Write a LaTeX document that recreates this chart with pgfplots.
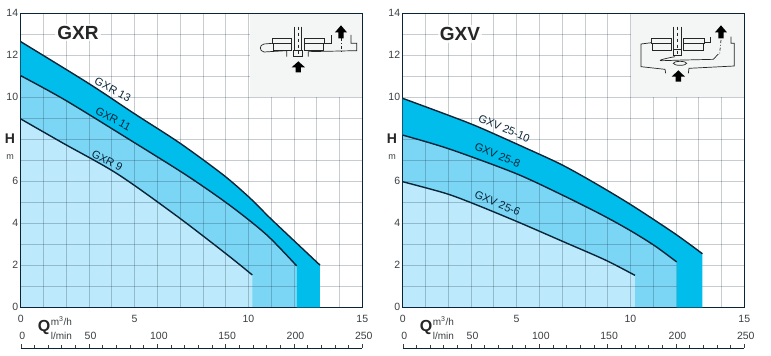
\documentclass[border=0pt]{standalone}
\usepackage{fontspec}
\setmainfont{Liberation Sans}
\usepackage{pgfplots}
\pgfplotsset{compat=1.18}
\definecolor{lightb}{HTML}{BCE9FB}
\definecolor{midb}{HTML}{7BD6F6}
\definecolor{cyanb}{HTML}{00BDEB}
\definecolor{gridc}{HTML}{102838}
\definecolor{linec}{HTML}{0A2538}
\definecolor{insetc}{HTML}{F3F6F5}
\definecolor{txt}{HTML}{3A3F42}
\newcommand{\fs}[1]{\fontsize{#1}{#1}\selectfont}
\pgfplotsset{
 base/.style={scale only axis,width=341.6pt,height=294pt,xmin=0,xmax=15,ymin=0,ymax=14,clip=true},
 under/.style={base,axis on top,axis line style={draw=none},
   xtick={0,5,10,15},ytick={0,2,...,14},yticklabels={0,2,4,6,,10,12,14},
   minor x tick num=4,minor y tick num=1,
   major tick length=0pt,minor tick length=0pt,
   grid=both,grid style={draw=gridc,opacity=0.24,line width=0.7pt},
   minor grid style={draw=gridc,opacity=0.24,line width=0.7pt},
   /pgf/number format/assume math mode=true,
   tick label style={text=txt,font=\fs{10.5}},
   xticklabel style={yshift=-4pt},yticklabel style={xshift=1pt}},
 over/.style={base,axis line style={draw=linec,line width=1.2pt},xtick=\empty,ytick=\empty},
 curve/.style={draw=linec,line width=1.4pt,smooth,no marks},
 ruler/.style={scale only axis,width=341.6pt,height=1pt,xmin=0,xmax=250,ymin=0,ymax=1,
   axis y line=none,axis x line=bottom,axis line style={-,draw=linec,line width=1pt},
   xtick={0,50,...,250},minor x tick num=4,tick align=inside,
   major tick length=4pt,minor tick length=3pt,tick style={draw=txt,line width=0.4pt},
   /pgf/number format/assume math mode=true,
   tick label style={text=txt,font=\fs{10.5}},xticklabel style={yshift=19.5pt,xshift=1.5pt}},
}
\begin{document}
\begin{tikzpicture}
\path[use as bounding box] (0pt,0pt) rectangle (771pt,-356pt);

%% ---------- GXR ----------
\begin{axis}[under,at={(20.7pt,-307.3pt)},anchor=south west]
\addplot[fill=midb,draw=none,smooth] coordinates {(0,11.03)(1.95,9.87)(4.8,7.97)(7.29,6.28)(9.19,4.85)(10.8,3.45)(12.12,1.97)} \closedcycle;
\addplot[fill=lightb,draw=none,smooth] coordinates {(0,8.97)(1.87,7.81)(4.25,6.35)(6.85,4.35)(9.05,2.52)(10.17,1.54)} \closedcycle;
\end{axis}
\fill[insetc] (250pt,-13.5pt) rectangle (362pt,-96.7pt);
\begin{axis}[over,at={(20.7pt,-307.3pt)},anchor=south west]
\addplot[fill=cyanb,draw=none] coordinates {(0,12.65)(2.97,10.67)(5.02,9.2)(7.0,7.81)(8.9,6.3)(10.07,5.2)(10.95,4.25)(12.12,3.05)(13.14,2.01)(13.14,0)(12.12,0)(12.12,1.97)(10.8,3.45)(9.19,4.85)(7.29,6.28)(4.8,7.97)(1.95,9.87)(0,11.03)} --cycle;
\addplot[curve] coordinates {(0,12.65)(2.97,10.67)(5.02,9.2)(7.0,7.81)(8.9,6.3)(10.07,5.2)(10.95,4.25)(12.12,3.05)(13.14,2.01)};
\addplot[curve] coordinates {(0,11.03)(1.95,9.87)(4.8,7.97)(7.29,6.28)(9.19,4.85)(10.8,3.45)(12.12,1.97)};
\addplot[curve] coordinates {(0,8.97)(1.87,7.81)(4.25,6.35)(6.85,4.35)(9.05,2.52)(10.17,1.54)};
\end{axis}
\begin{axis}[ruler,at={(20.7pt,-348pt)},anchor=south west]
\addplot[draw=none] coordinates {(0,0)(250,0)};
\end{axis}

%% ---------- GXV ----------
\begin{axis}[under,at={(402.7pt,-307.3pt)},anchor=south west]
\addplot[fill=midb,draw=none,smooth] coordinates {(0,8.2)(2.02,7.55)(4.95,6.38)(7.0,5.35)(8.75,4.4)(10.0,3.65)(11.08,2.92)(12.03,2.16)} \closedcycle;
\addplot[fill=lightb,draw=none,smooth] coordinates {(0,5.98)(1.87,5.43)(3.19,4.9)(5.09,4.05)(7.0,3.15)(8.9,2.25)(10.2,1.52)} \closedcycle;
\end{axis}
\fill[insetc] (631pt,-13.5pt) rectangle (744.3pt,-96.7pt);
\begin{axis}[over,at={(402.7pt,-307.3pt)},anchor=south west]
\addplot[fill=cyanb,draw=none] coordinates {(0,9.95)(2.02,9.14)(3.34,8.58)(5.53,7.52)(7.0,6.78)(8.46,5.9)(10.07,4.85)(11.96,3.5)(13.16,2.55)(13.16,0)(12.03,0)(12.03,2.16)(11.08,2.92)(10.0,3.65)(8.75,4.4)(7.0,5.35)(4.95,6.38)(2.02,7.55)(0,8.2)} --cycle;
\addplot[curve] coordinates {(0,9.95)(2.02,9.14)(3.34,8.58)(5.53,7.52)(7.0,6.78)(8.46,5.9)(10.07,4.85)(11.96,3.5)(13.16,2.55)};
\addplot[curve] coordinates {(0,8.2)(2.02,7.55)(4.95,6.38)(7.0,5.35)(8.75,4.4)(10.0,3.65)(11.08,2.92)(12.03,2.16)};
\addplot[curve] coordinates {(0,5.98)(1.87,5.43)(3.19,4.9)(5.09,4.05)(7.0,3.15)(8.9,2.25)(10.2,1.52)};
\end{axis}
\begin{axis}[ruler,at={(402.7pt,-348pt)},anchor=south west]
\addplot[draw=none] coordinates {(0,0)(250,0)};
\end{axis}

\begin{scope}[x=1pt,y=-1pt]
%% ---------- titles and labels ----------
\node[fill=white,fill opacity=0.8,text opacity=1,text=black!85,font=\fs{19}\bfseries,inner sep=2pt] at (78,32.7) {GXR};
\node[fill=white,fill opacity=0.8,text opacity=1,text=black!85,font=\fs{19}\bfseries,inner sep=2pt] at (460,34) {GXV};
\foreach \t/\xx/\yy/\a in {GXR 13/112.8/89.5/-28,GXR 11/113.2/118.8/-28,GXR 9/107.2/160.5/-28,GXV 25-10/504.2/128.3/-23,GXV 25-8/497.5/155/-23,GXV 25-6/497.5/203.3/-23}
  \node[rotate=\a,text=linec,font=\fs{11},inner sep=0pt] at (\xx,\yy) {\t};
\foreach \ox in {0,382}{
  \begin{scope}[shift={(\ox,0)}]
  \node[text=black!85,font=\fs{14}\bfseries,inner sep=0pt] at (10,139) {H};
  \node[text=txt,font=\fs{9},inner sep=0pt] at (10,157) {m};
  \node[text=black!85,font=\fs{16}\bfseries,inner sep=0pt] at (44,327.5) {Q};
  \node[text=txt,font=\fs{10},inner sep=0pt,anchor=west] at (50.7,321) {m\textsuperscript{3}/h};
  \node[text=txt,font=\fs{10},inner sep=0pt,anchor=west] at (50.7,336) {l/min};
  \end{scope}}

%% ---------- pump sketch, GXR ----------
\begin{scope}[shift={(245,10)},x=0.3333pt,y=-0.3333pt,draw=black!85,line width=0.7pt]
\draw (82,100) rectangle (140,85); \draw (84,100) rectangle (140,122);
\draw (178,100) rectangle (238,85); \draw (178,100) rectangle (236,122);
\draw (148,50)--(148,122) (170,50)--(170,122);
\draw[dashed] (159,50)--(159,138);
\draw (146,122) rectangle (172,138);
\draw (82,100)--(57,102) to[out=190,in=170,looseness=1.6] (57,126)--(125,122)--(125,140);
\draw (190,140)--(190,125)--(335,122)--(335,100)--(318,100)--(318,75);
\draw (238,100)--(260,100)--(260,75);
\draw[dash dot] (288,85)--(288,125);
\fill[black] (280,85)--(296,85)--(296,67)--(306,67)--(288,46)--(270,67)--(280,67)--cycle;
\fill[black] (152,187)--(168,187)--(168,172)--(180,172)--(160,154)--(140,172)--(152,172)--cycle;
\end{scope}
%% ---------- pump sketch, GXV ----------
\begin{scope}[shift={(625,10)},x=0.3333pt,y=-0.3333pt,draw=black!85,line width=0.7pt]
\draw (80,100) rectangle (140,85); \draw (82,100) rectangle (140,120);
\draw (176,100) rectangle (238,85); \draw (176,100) rectangle (236,120);
\draw (146,50)--(146,118) (168,50)--(168,118);
\draw[dashed] (157,50)--(157,138);
\draw (145,118) rectangle (170,136);
\draw (80,98)--(48,102)--(48,170)--(120,178)--(122,190);
\draw (190,190)--(192,175)--(328,168)--(328,100)--(318,100)--(318,80);
\draw (240,98)--(255,98)--(255,80);
\draw (165,160) ellipse (20 and 6);
\draw (150,140) to[out=190,in=180,looseness=1.1] (110,152) to[out=0,in=180,looseness=0.5] (180,150) --(265,148)--(280,132);
\draw[dash dot] (288,90)--(284,130);
\fill[black] (280,85)--(296,85)--(296,67)--(306,67)--(288,46)--(270,67)--(280,67)--cycle;
\fill[black] (152,215)--(168,215)--(168,200)--(180,200)--(160,181)--(140,200)--(152,200)--cycle;
\end{scope}
\end{scope}
\end{tikzpicture}
\end{document}
